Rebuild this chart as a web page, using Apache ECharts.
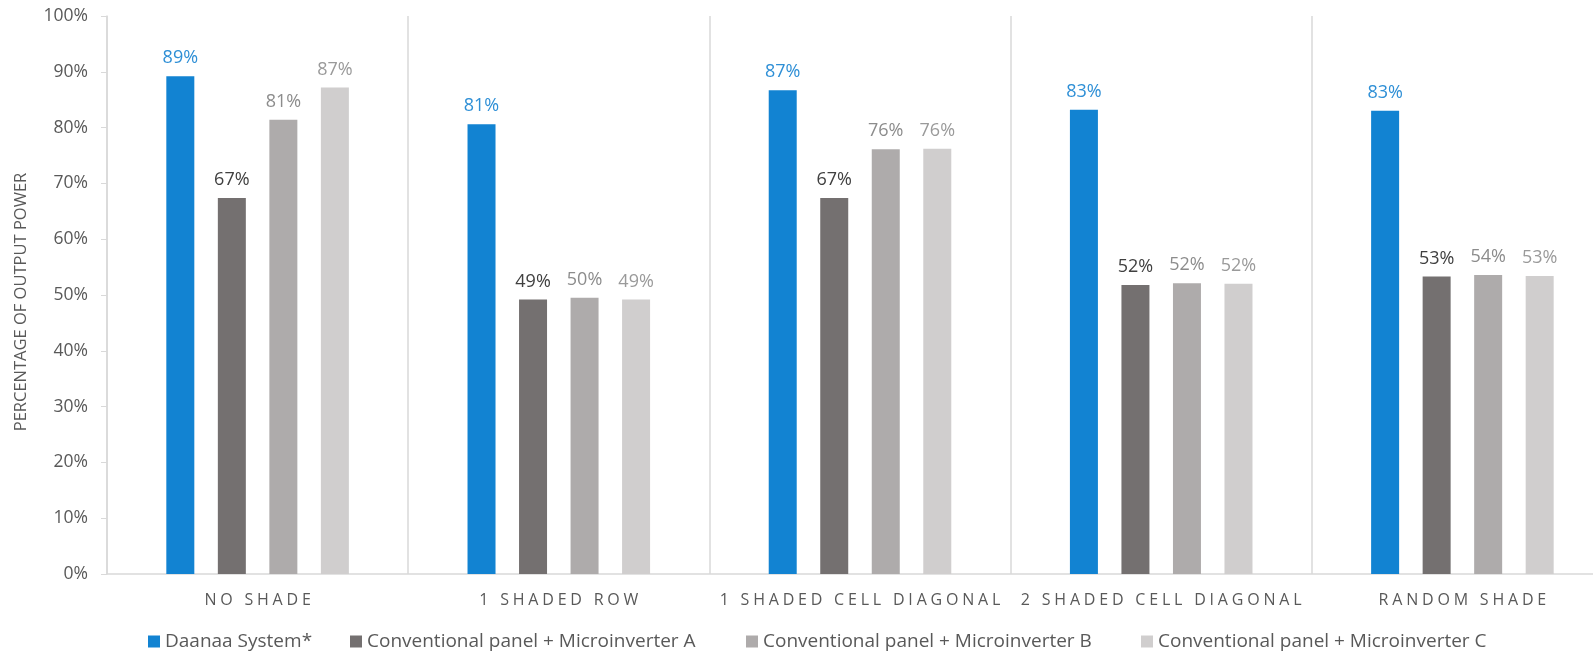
<!DOCTYPE html>
<html>
<head>
<meta charset="utf-8">
<script src="https://cdn.jsdelivr.net/npm/echarts@6/dist/echarts.min.js"></script>
<style>
html,body{margin:0;padding:0;background:#fff;}
#chart{width:1593px;height:651px;}
</style>
</head>
<body>
<div id="chart"></div>
<script>
const categories = ['NO SHADE', '1 SHADED ROW', '1 SHADED CELL DIAGONAL', '2 SHADED CELL DIAGONAL', 'RANDOM SHADE'];
const seriesNames = ['Daanaa System*', 'Conventional panel + Microinverter A', 'Conventional panel + Microinverter B', 'Conventional panel + Microinverter C'];
const daanaa = [89.2, 80.6, 86.7, 83.2, 83.0];
const microA = [67.4, 49.2, 67.4, 51.8, 53.3];
const microB = [81.4, 49.5, 76.1, 52.1, 53.6];
const microC = [87.2, 49.2, 76.2, 52.0, 53.4];
const yTicks = [0, 10, 20, 30, 40, 50, 60, 70, 80, 90, 100];

const colors = ['#1283D2', '#747070', '#AEABAB', '#D0CECE'];
const labelColors = ['#2E8FD6', '#404040', '#8C8C8C', '#9A9A9A'];
const seriesData = [daanaa, microA, microB, microC];
const legendLefts = [143, 345, 741, 1136];
const font = '"Open Sans", "Noto Sans", sans-serif';

const chart = echarts.init(document.getElementById('chart'));
chart.setOption({
  animation: false,
  color: colors,
  textStyle: {fontFamily: font},
  grid: {left: 107, right: -20, top: 16, bottom: 77, containLabel: false, outerBoundsMode: 'none'},
  legend: seriesNames.map((name, i) => ({
    top: 627,
    left: legendLefts[i],
    itemWidth: 12,
    itemHeight: 12,
    itemGap: 5,
    icon: 'rect',
    textStyle: {fontSize: 19, color: '#595959', fontFamily: font},
    data: [name]
  })),
  xAxis: {
    type: 'category',
    data: categories,
    axisLine: {lineStyle: {color: '#D9D9D9', width: 1.5}},
    axisTick: {show: false},
    splitLine: {show: true, interval: 0, lineStyle: {color: '#D9D9D9', width: 1.5}},
    axisLabel: {
      interval: 0,
      margin: 18,
      formatter: v => v.split('').map(c => '{s|' + c + '}').join(''),
      rich: {s: {fontSize: 16, color: '#595959', fontFamily: font, padding: [0, 1.9, 0, 1.9]}}
    }
  },
  yAxis: {
    type: 'value',
    min: yTicks[0],
    max: yTicks[yTicks.length - 1],
    interval: 10,
    name: 'PERCENTAGE OF OUTPUT POWER',
    nameLocation: 'middle',
    nameGap: 77,
    nameTextStyle: {fontSize: 16.5, color: '#595959', fontFamily: font, padding: [0, 14, 0, 0]},
    axisLine: {show: true, lineStyle: {color: '#D9D9D9', width: 1.5}},
    axisTick: {show: true, length: 6, lineStyle: {color: '#D9D9D9'}},
    splitLine: {show: false},
    axisLabel: {fontSize: 17.5, color: '#595959', margin: 19, formatter: v => v + '%', fontFamily: font}
  },
  series: seriesNames.map((name, i) => ({
    name: name,
    type: 'bar',
    data: seriesData[i],
    barWidth: 28,
    barGap: '84%',
    itemStyle: {color: colors[i]},
    label: {
      show: true,
      position: 'top',
      distance: 9,
      fontSize: 18,
      color: labelColors[i],
      fontFamily: font,
      formatter: p => Math.round(p.value) + '%'
    }
  }))
});
</script>
</body>
</html>
